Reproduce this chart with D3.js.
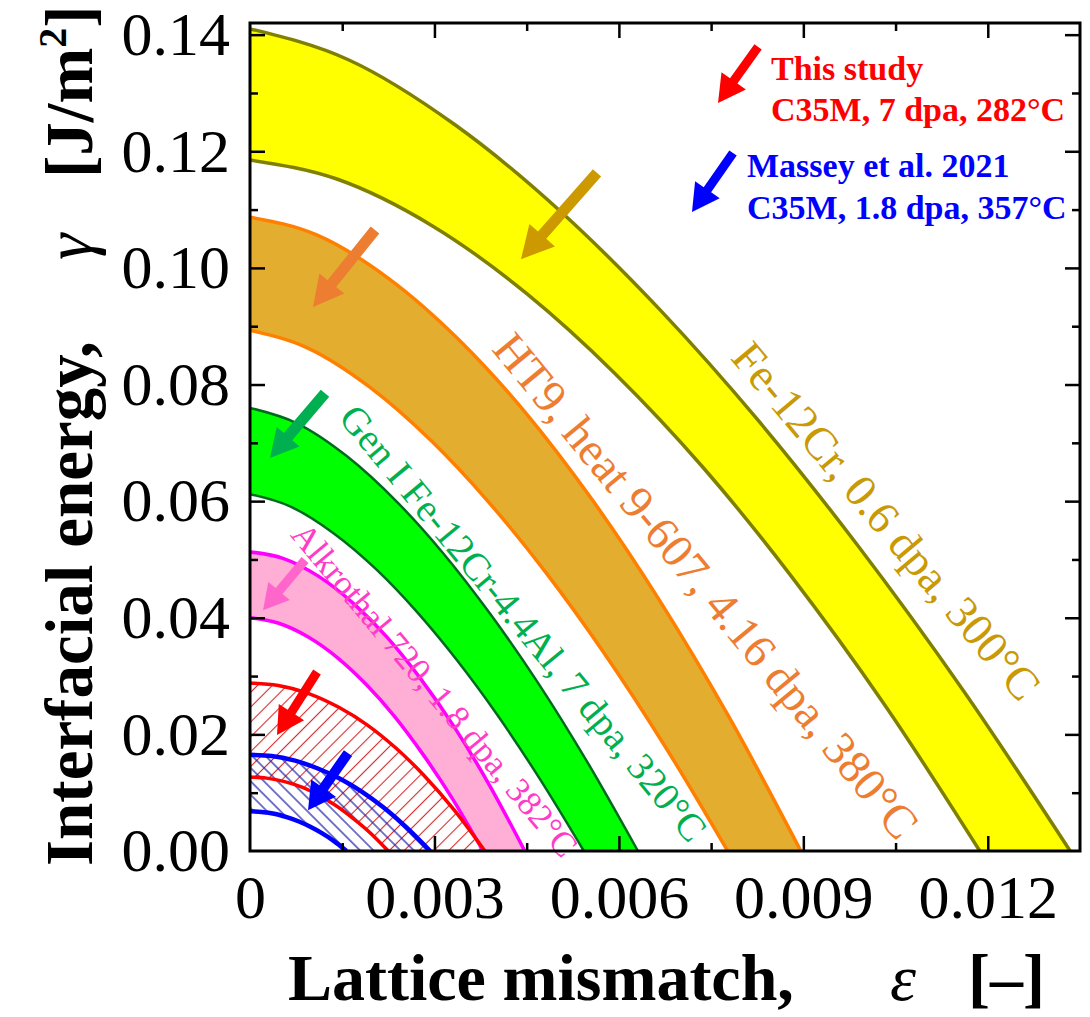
<!DOCTYPE html>
<html>
<head>
<meta charset="utf-8">
<script src="https://cdn.jsdelivr.net/npm/d3@7"></script>
<style>
  html, body { margin: 0; padding: 0; background: #fff; }
  svg { display: block; }
</style>
</head>
<body>
<svg id="chart" width="1090" height="1017"></svg>
<script>
// Upper / lower bound curves of each window, as [lattice mismatch ε, interfacial energy γ (J/m²)]
const feCrHigh   = [[0,0.141],[0.0016,0.1357],[0.00334,0.1245],[0.00507,0.1095],[0.00667,0.0928],[0.00827,0.0738],[0.00987,0.0526],[0.01161,0.0274],[0.01334,0]];
const feCrLow    = [[0,0.1185],[0.001424,0.1152],[0.002968,0.1072],[0.004511,0.0955],[0.005935,0.0819],[0.007359,0.0659],[0.008784,0.0474],[0.010327,0.0250],[0.01187,0]];
const ht9High    = [[0,0.1087],[0.001075,0.1057],[0.00224,0.0983],[0.003405,0.0876],[0.00448,0.0752],[0.005555,0.0604],[0.00663,0.0435],[0.007795,0.0229],[0.00896,0]];
const ht9Low     = [[0,0.0893],[0.000932,0.0863],[0.001943,0.0796],[0.002953,0.0703],[0.003885,0.0598],[0.004817,0.0477],[0.00575,0.0341],[0.00676,0.0178],[0.00777,0]];
const genIHigh   = [[0,0.076],[0.000757,0.0734],[0.001578,0.0677],[0.002398,0.0598],[0.003155,0.0509],[0.003912,0.0406],[0.004669,0.0291],[0.00549,0.0152],[0.00631,0]];
const genILow    = [[0,0.0612],[0.000652,0.0591],[0.001358,0.0545],[0.002063,0.0482],[0.002715,0.0410],[0.003367,0.0327],[0.004018,0.0234],[0.004724,0.0122],[0.00543,0]];
const alkHigh    = [[0,0.0513],[0.000536,0.0502],[0.001118,0.0471],[0.001699,0.0423],[0.002235,0.0366],[0.002771,0.0296],[0.003308,0.0215],[0.003889,0.0114],[0.00447,0]];
const alkLow     = [[0,0.0400],[0.000455,0.0391],[0.000948,0.0367],[0.00144,0.0330],[0.001895,0.0285],[0.00235,0.0231],[0.002805,0.0167],[0.003297,0.0089],[0.00379,0]];
const thisHigh   = [[0,0.0288],[0.000458,0.0284],[0.000955,0.0270],[0.001452,0.0246],[0.00191,0.0216],[0.002368,0.0177],[0.002827,0.0130],[0.003323,0.0070],[0.00382,0]];
const thisLow    = [[0,0.0127],[0.00027,0.0125],[0.000563,0.0119],[0.000855,0.0109],[0.001125,0.0095],[0.001395,0.0078],[0.001665,0.0057],[0.001958,0.0031],[0.00225,0]];
const masseyHigh = [[0,0.0165],[0.000352,0.0163],[0.000733,0.0155],[0.001113,0.0141],[0.001465,0.0124],[0.001817,0.0102],[0.002168,0.0075],[0.002549,0.0040],[0.00293,0]];
const masseyLow  = [[0,0.0068],[0.000188,0.0067],[0.000393,0.0064],[0.000597,0.0058],[0.000785,0.0051],[0.000973,0.0042],[0.001162,0.0031],[0.001366,0.0017],[0.00157,0]];

// Axis ticks
const xMajorTicks = [0, 0.003, 0.006, 0.009, 0.012];
const xTickLabels = ["0", "0.003", "0.006", "0.009", "0.012"];
const xMinorTicks = [0.0015, 0.0045, 0.0075, 0.0105];
const yMajorTicks = [0, 0.02, 0.04, 0.06, 0.08, 0.10, 0.12, 0.14];
const yTickLabels = ["0.00", "0.02", "0.04", "0.06", "0.08", "0.10", "0.12", "0.14"];
const yMinorTicks = [0.01, 0.03, 0.05, 0.07, 0.09, 0.11, 0.13];

// Band labels
const bandNames = [
  "Fe-12Cr, 0.6 dpa, 300°C",
  "HT9, heat 9-607, 4.16 dpa, 380°C",
  "Gen I Fe-12Cr-4.4Al, 7 dpa, 320°C",
  "Alkrothal 720, 1.8 dpa, 382°C"
];
const studyLines = ["This study", "C35M, 7 dpa, 282°C"];
const masseyLines = ["Massey et al. 2021", "C35M, 1.8 dpa, 357°C"];

const FONT = "'Times New Roman', 'Liberation Serif', serif";
const svg = d3.select("#chart");

const M = { left: 250, right: 1080, top: 23, bottom: 851 };
const x = d3.scaleLinear().domain([0, 0.0135]).range([M.left, M.right]);
const y = d3.scaleLinear().domain([0, 0.142]).range([M.bottom, M.top]);

const defs = svg.append("defs");
defs.append("clipPath").attr("id", "plotClip")
  .append("rect").attr("x", M.left).attr("y", M.top)
  .attr("width", M.right - M.left).attr("height", M.bottom - M.top);

// hatch patterns: red "/" and blue "\"
function hatch(id, angle, color, width, gap) {
  const p = defs.append("pattern").attr("id", id)
    .attr("patternUnits", "userSpaceOnUse")
    .attr("width", gap).attr("height", gap)
    .attr("patternTransform", `rotate(${angle})`);
  p.append("line").attr("x1", gap / 2).attr("y1", 0).attr("x2", gap / 2).attr("y2", gap)
    .attr("stroke", color).attr("stroke-width", width);
}
hatch("hatchRed", 45, "#d42a2a", 1.1, 10.5);
hatch("hatchBlue", -45, "#1a1aa8", 1.2, 9.5);

const area = d3.area()
  .x(d => x(d[0])).y0(y(0)).y1(d => y(d[1]))
  .curve(d3.curveMonotoneX);
const line = d3.line()
  .x(d => x(d[0])).y(d => y(d[1]))
  .curve(d3.curveMonotoneX);

const plot = svg.append("g").attr("clip-path", "url(#plotClip)");

const bands = [
  { hi: feCrHigh, lo: feCrLow, fill: "#ffff00", edge: "#808000", ew: 3.5 },
  { hi: ht9High, lo: ht9Low, fill: "#e3ad30", edge: "#ff8000", ew: 3.5 },
  { hi: genIHigh, lo: genILow, fill: "#00ff00", edge: "#006a1e", ew: 2.5 },
  { hi: alkHigh, lo: alkLow, fill: "#ffaed6", edge: "#ff00ff", ew: 3.5 },
  { hi: thisHigh, lo: thisLow, fill: "url(#hatchRed)", edge: "#ff0000", ew: 3.5 },
  { hi: masseyHigh, lo: masseyLow, fill: "url(#hatchBlue)", edge: "#0000ff", ew: 4.5 }
];

bands.forEach(b => {
  plot.append("path")
    .attr("d", area(b.hi) + area(b.lo))
    .attr("fill", b.fill)
    .attr("fill-rule", "evenodd");
});
bands.forEach(b => {
  [b.hi, b.lo].forEach(c => {
    plot.append("path").attr("d", line(c))
      .attr("fill", "none").attr("stroke", b.edge).attr("stroke-width", b.ew);
  });
});

// rotated labels along the bands (centre in data units, angle in degrees)
const bandLabelStyle = [
  { at: [0.01035, 0.0566], angle: 50, size: 46, color: "#c99a06" },
  { at: [0.00742, 0.0455], angle: 50.5, size: 47, color: "#ed7d31" },
  { at: [0.00445, 0.0391], angle: 50.5, size: 39, color: "#00b050" },
  { at: [0.00300, 0.0276], angle: 50, size: 35, color: "#ff3cc8" }
];
bandNames.forEach((name, i) => {
  const s = bandLabelStyle[i];
  svg.append("text")
    .attr("transform", `translate(${x(s.at[0])},${y(s.at[1])}) rotate(${s.angle})`)
    .attr("text-anchor", "middle")
    .attr("dominant-baseline", "central")
    .attr("font-family", FONT).attr("font-size", s.size)
    .attr("fill", s.color)
    .text(name);
});

// block arrows
function arrowPath(p0, p1, w, hl, hw) {
  const dx = p1[0] - p0[0], dy = p1[1] - p0[1];
  const L = Math.hypot(dx, dy);
  const ux = dx / L, uy = dy / L, nx = -uy, ny = ux;
  const bx = p1[0] - ux * hl, by = p1[1] - uy * hl;
  const pts = [
    [p0[0] + nx * w / 2, p0[1] + ny * w / 2],
    [bx + nx * w / 2, by + ny * w / 2],
    [bx + nx * hw, by + ny * hw],
    p1,
    [bx - nx * hw, by - ny * hw],
    [bx - nx * w / 2, by - ny * w / 2],
    [p0[0] - nx * w / 2, p0[1] - ny * w / 2]
  ];
  return "M" + pts.map(p => p[0].toFixed(1) + "," + p[1].toFixed(1)).join("L") + "Z";
}
const arrows = [
  { from: [0.005644, 0.1163], to: [0.004408, 0.1015], color: "#cc9900", w: 11, hl: 32, hw: 17 },
  { from: [0.002033, 0.1065], to: [0.001025, 0.0933], color: "#ed7d31", w: 11, hl: 30, hw: 16 },
  { from: [0.001220, 0.0785], to: [0.000325, 0.0674], color: "#00b050", w: 11, hl: 28, hw: 15 },
  { from: [0.000895, 0.0499], to: [0.000211, 0.0413], color: "#ff66cc", w: 9, hl: 25, hw: 14 },
  { from: [0.001090, 0.0307], to: [0.000439, 0.0199], color: "#ff0000", w: 9, hl: 27, hw: 15 },
  { from: [0.001594, 0.0168], to: [0.000943, 0.0070], color: "#0000ff", w: 10, hl: 27, hw: 15 },
  { from: [0.008263, 0.1379], to: [0.007612, 0.1283], color: "#ff0000", w: 9, hl: 27, hw: 15 },
  { from: [0.007856, 0.1197], to: [0.007189, 0.1096], color: "#0000ff", w: 9, hl: 27, hw: 15 }
];
arrows.forEach(a => {
  svg.append("path")
    .attr("d", arrowPath([x(a.from[0]), y(a.from[1])], [x(a.to[0]), y(a.to[1])], a.w, a.hl, a.hw))
    .attr("fill", a.color);
});

// legend text
function legendBlock(lines, color, left, baseline, gap) {
  lines.forEach((t, i) => {
    svg.append("text").attr("x", left).attr("y", baseline + i * gap)
      .attr("font-family", FONT).attr("font-weight", "bold").attr("font-size", 34)
      .attr("fill", color).text(t);
  });
}
legendBlock(studyLines, "#ff0000", 771, 80, 41);
legendBlock(masseyLines, "#0000ff", 747, 177, 42);

// axes (ticks point inward on all four sides)
function styleAxis(g) {
  g.select(".domain").remove();
  g.selectAll(".tick line").attr("stroke", "#000").attr("stroke-width", 2.5);
  g.selectAll("text").attr("font-family", FONT).attr("font-size", 62).attr("fill", "#000");
}
const majLen = 15, minLen = 8;
const xMajInner = xMajorTicks.filter(v => v > 0);

svg.append("g").attr("transform", `translate(0,${M.bottom})`)
  .call(d3.axisBottom(x).tickValues(xMajorTicks).tickSize(-majLen).tickPadding(23)
    .tickFormat((d, i) => xTickLabels[i]))
  .call(styleAxis)
  .call(g => g.selectAll(".tick").filter(d => d === 0).select("line").remove());
svg.append("g").attr("transform", `translate(0,${M.bottom})`)
  .call(d3.axisBottom(x).tickValues(xMinorTicks).tickSize(-minLen).tickFormat(""))
  .call(styleAxis);
svg.append("g").attr("transform", `translate(0,${M.top})`)
  .call(d3.axisTop(x).tickValues(xMajInner).tickSize(-majLen).tickFormat(""))
  .call(styleAxis);
svg.append("g").attr("transform", `translate(0,${M.top})`)
  .call(d3.axisTop(x).tickValues(xMinorTicks).tickSize(-minLen).tickFormat(""))
  .call(styleAxis);

svg.append("g").attr("transform", `translate(${M.left},0)`)
  .call(d3.axisLeft(y).tickValues(yMajorTicks).tickSize(-majLen).tickPadding(20)
    .tickFormat((d, i) => yTickLabels[i]))
  .call(styleAxis)
  .call(g => g.selectAll(".tick").filter(d => d === 0).select("line").remove());
svg.append("g").attr("transform", `translate(${M.left},0)`)
  .call(d3.axisLeft(y).tickValues(yMinorTicks).tickSize(-minLen).tickFormat(""))
  .call(styleAxis);
svg.append("g").attr("transform", `translate(${M.right},0)`)
  .call(d3.axisRight(y).tickValues(yMajorTicks.filter(v => v > 0)).tickSize(-majLen).tickFormat(""))
  .call(styleAxis);
svg.append("g").attr("transform", `translate(${M.right},0)`)
  .call(d3.axisRight(y).tickValues(yMinorTicks).tickSize(-minLen).tickFormat(""))
  .call(styleAxis);

// frame
svg.append("rect")
  .attr("x", M.left).attr("y", M.top)
  .attr("width", M.right - M.left).attr("height", M.bottom - M.top)
  .attr("fill", "none").attr("stroke", "#000").attr("stroke-width", 3);

// axis titles
const xt = svg.append("text").attr("y", 1000)
  .attr("font-family", FONT).attr("font-size", 66).attr("font-weight", "bold").attr("fill", "#000");
xt.append("tspan").attr("x", 288).text("Lattice mismatch,");
xt.append("tspan").attr("x", 890).attr("font-style", "italic").attr("font-weight", "normal").text("ε");
xt.append("tspan").attr("x", 968).text("[–]");

const yt = svg.append("text")
  .attr("transform", `translate(92,866) rotate(-90)`)
  .attr("font-family", FONT).attr("font-size", 67).attr("font-weight", "bold").attr("fill", "#000");
yt.append("tspan").attr("x", 0).text("Interfacial energy,");
yt.append("tspan").attr("x", 606).attr("font-style", "italic").attr("font-weight", "normal").text("γ");
yt.append("tspan").attr("x", 688).text("[J/m");
yt.append("tspan").attr("font-size", 40).attr("dy", -26).text("2");
yt.append("tspan").attr("dy", 26).text("]");
</script>
</body>
</html>
